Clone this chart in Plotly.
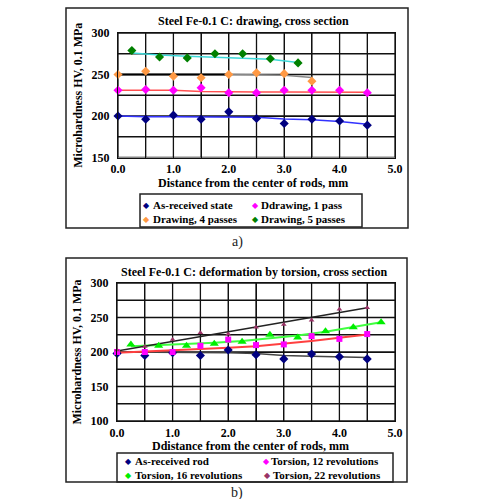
import plotly.graph_objects as go

W, H = 477, 499
FONT = "Liberation Serif"


def px(x):
    return x / W


def py(y):
    return 1 - y / H


# ---------------- data: a) drawing ----------------
x_pos = [0.0, 0.5, 1.0, 1.5, 2.0, 2.5, 3.0, 3.5, 4.0, 4.5]
asrec_a = [200, 196, 201, 196, 205, 197, 191, 196, 194, 189]
asrec_a_trend = [200, 199, 199, 199, 199, 198.5, 196.5, 195.5, 193.5, 190]
pass1 = [231, 232, 231, 234, 228, 228, 231, 231, 231, 228]
pass1_trend = [231, 231, 231, 229.5, 229, 229, 229, 229, 229, 228.5]
x_pass4 = [0.0, 0.5, 1.0, 1.5, 2.0, 2.5, 3.0, 3.5]
pass4 = [250, 254, 248, 246, 250, 252, 251, 242]
pass4_trend_black = [250, 250, 250, 250, 250]
pass4_trend_grey = [250, 249.5, 249, 246.5]
x_pass5 = [0.25, 0.75, 1.25, 1.75, 2.25, 2.75, 3.25]
pass5 = [279, 271, 270, 275, 275, 269, 264]
pass5_trend = [276, 273.5, 272, 271, 270, 268.5, 264.5]

# ---------------- data: b) torsion ----------------
asrec_b = [198, 195, 199, 195, 203, 196, 190, 197, 193, 190]
asrec_b_trend = [200, 200, 199.5, 199, 199, 198, 195, 194, 193, 192]
rev12 = [200, 200, 200, 209, 218, 210, 211, 223, 219, 226]
rev12_trend = [199, 200.5, 202, 204, 206, 208.5, 212, 216, 220.5, 225.5]
x_rev16 = [0.25, 0.75, 1.25, 1.75, 2.25, 2.75, 3.25, 3.75, 4.25, 4.75]
rev16 = [211, 209, 209, 212, 215, 225, 221, 230, 236, 243]
rev16_trend = [208.5, 210, 211.5, 213.5, 216, 219.5, 224, 229.5, 236, 243]
rev22 = [203, 208, 218, 228, 226, 236, 240, 246, 262, 264]
x_rev22_trend = [0.0, 4.5]
rev22_trend = [201.5, 264]

# ticks / grid: every grid position, labels only on the major ones
x_tickvals = [0.0, 0.5, 1.0, 1.5, 2.0, 2.5, 3.0, 3.5, 4.0, 4.5, 5.0]
x_ticktext = ["0.0", "", "1.0", "", "2.0", "", "3.0", "", "4.0", "", "5.0"]
ya_tickvals = [150, 175, 200, 225, 250, 275, 300]
ya_ticktext = ["150", "", "200", "", "250", "", "300"]
yb_tickvals = [100, 125, 150, 175, 200, 225, 250, 275, 300]
yb_ticktext = ["100", "", "150", "", "200", "", "250", "", "300"]
x_range = [0, 5]
ya_range = [150, 300]
yb_range = [100, 300]

title_a = "Steel Fe-0.1 C: drawing, cross section"
title_b = "Steel Fe-0.1 C: deformation by torsion, cross section"
xtitle_a = "Distance from the center of rods, mm"
xtitle_b = "Ddistance from the center of rods, mm"
ytitle = "Microhardness HV, 0.1 MPa"

legend_a = [("As-received state", "#000080"), ("Ddrawing, 1 pass", "#FF00FF"),
            ("Drawing, 4 passes", "#FF9944"), ("Drawing, 5 passes", "#008000")]
legend_b = [("As-received rod", "#000080"), ("Torsion, 12 revolutions", "#FF00FF"),
            ("Torsion, 16 revolutions", "#00EE00"), ("Torsion, 22 revolutions", "#993366")]

GRID = "#111111"
TICK = 0.09  # ~5 px of the x axis, for the outside y tick marks

# subplot axes: a) on x2/y2, b) on x3/y3 (the default x/y pair is left empty)
XA, YA = "x2", "y2"
XB, YB = "x3", "y3"

fig = go.Figure()
fig.add_trace(go.Scatter(x=[], y=[], xaxis="x", yaxis="y", showlegend=False, hoverinfo="skip"))


def grid(xa, ya, ytv, yrng):
    # chart grid (every tick position) plus the short outside y tick marks
    gx, gy = [], []
    for v in x_tickvals:
        gx += [v, v, None]
        gy += [yrng[0], yrng[1], None]
    for v in ytv:
        gx += [x_range[0] - TICK, x_range[1], None]
        gy += [v, v, None]
    fig.add_trace(go.Scatter(x=gx, y=gy, mode="lines", line=dict(color=GRID, width=1.3),
                             xaxis=xa, yaxis=ya, showlegend=False, hoverinfo="skip",
                             cliponaxis=False))


def line(x, y, color, xa, ya, width=1.5):
    fig.add_trace(go.Scatter(x=x, y=y, mode="lines", line=dict(color=color, width=width),
                             xaxis=xa, yaxis=ya, showlegend=False, hoverinfo="skip"))


def pts(x, y, color, name, xa, ya, symbol="diamond", size=7):
    fig.add_trace(go.Scatter(x=x, y=y, mode="markers", name=name,
                             marker=dict(color=color, symbol=symbol, size=size, line=dict(width=0)),
                             xaxis=xa, yaxis=ya, showlegend=False, cliponaxis=False))


# a)
grid(XA, YA, ya_tickvals, ya_range)
line(x_pos, asrec_a_trend, "#3333FF", XA, YA)
line(x_pos, pass1_trend, "#FF5050", XA, YA)
line(x_pass4[4:], pass4_trend_grey, "#888888", XA, YA)
line(x_pass4[:5], pass4_trend_black, "#000000", XA, YA, width=2)
line(x_pass5, pass5_trend, "#3CD8D8", XA, YA)
pts(x_pos, asrec_a, legend_a[0][1], legend_a[0][0], XA, YA)
pts(x_pos, pass1, legend_a[1][1], legend_a[1][0], XA, YA)
pts(x_pass4, pass4, legend_a[2][1], legend_a[2][0], XA, YA)
pts(x_pass5, pass5, legend_a[3][1], legend_a[3][0], XA, YA)

# b)
grid(XB, YB, yb_tickvals, yb_range)
line(x_pos, asrec_b_trend, "#444444", XB, YB)
line(x_pos, rev12_trend, "#FF4040", XB, YB, width=2)
line(x_rev16, rev16_trend, "#40FF40", XB, YB, width=2)
line(x_rev22_trend, rev22_trend, "#222222", XB, YB)
pts(x_pos, asrec_b, legend_b[0][1], legend_b[0][0], XB, YB)
pts(x_pos, rev12, legend_b[1][1], legend_b[1][0], XB, YB, symbol="square", size=6)
pts(x_rev16, rev16, legend_b[2][1], legend_b[2][0], XB, YB, symbol="triangle-up", size=8)
pts(x_pos, rev22, legend_b[3][1], legend_b[3][0], XB, YB, symbol="triangle-up", size=5)

tickfont = dict(family=FONT, size=12, color="black", weight="bold")
common = dict(showgrid=True, gridcolor=GRID, gridwidth=1.3, zeroline=False,
              showline=True, linecolor=GRID, linewidth=1.3, mirror=True,
              ticks="", tickfont=tickfont, automargin=False)


def xaxis(domain, anchor):
    return dict(domain=domain, anchor=anchor, range=x_range, tickmode="array",
                tickvals=x_tickvals, ticktext=x_ticktext, ticklabelstandoff=0, **common)


def yaxis(domain, anchor, rng, tv, tt):
    return dict(domain=domain, anchor=anchor, range=rng, tickmode="array",
                tickvals=tv, ticktext=tt, ticklabelstandoff=5,
                title=dict(text=ytitle, font=dict(family=FONT, size=12, color="black", weight="bold"),
                           standoff=6),
                **common)


shapes = []
for (x0, y0, x1, y1) in [(66, 8, 408, 228), (66, 258, 407, 482),
                         (140, 194, 362, 227), (117, 453, 393, 482)]:
    shapes.append(dict(type="rect", xref="paper", yref="paper",
                       x0=px(x0), x1=px(x1), y0=py(y0), y1=py(y1),
                       line=dict(color="#222222", width=1.5), layer="above"))

ann = []
bold = dict(family=FONT, size=12, color="black", weight="bold")
for text, x, y in [(title_a, 254, 21), (title_b, 254, 272), (xtitle_a, 253, 183), (xtitle_b, 251, 446)]:
    ann.append(dict(text=text, x=px(x), y=py(y), xref="paper", yref="paper",
                    showarrow=False, font=bold, xanchor="center", yanchor="middle"))
ann.append(dict(text="a)", x=px(237), y=py(242), xref="paper", yref="paper", showarrow=False,
                font=dict(family=FONT, size=14, color="#222"), xanchor="center", yanchor="middle"))
ann.append(dict(text="b)", x=px(237), y=py(493), xref="paper", yref="paper", showarrow=False,
                font=dict(family=FONT, size=14, color="#222"), xanchor="center", yanchor="middle"))

leg_font = dict(family=FONT, size=11, color="black", weight="bold")
# (glyph x, text x, y) for each legend entry
leg_pos_a = [(146, 151, 205), (255, 259, 205), (146, 151, 219), (255, 259, 219)]
leg_pos_b = [(128, 133, 461), (266, 269, 461), (128, 133, 475), (267, 271, 475)]
for entries, poss in [(legend_a, leg_pos_a), (legend_b, leg_pos_b)]:
    for (label, color), (gx, tx, yy) in zip(entries, poss):
        ann.append(dict(text="◆", x=px(gx), y=py(yy), xref="paper", yref="paper", showarrow=False,
                        font=dict(family="DejaVu Sans", size=8, color=color),
                        xanchor="center", yanchor="middle"))
        ann.append(dict(text=label, x=px(tx), y=py(yy), xref="paper", yref="paper", showarrow=False,
                        font=leg_font, xanchor="left", yanchor="middle"))

fig.update_layout(
    width=W, height=H,
    margin=dict(l=0, r=0, t=0, b=0),
    paper_bgcolor="white", plot_bgcolor="white",
    showlegend=False,
    xaxis=dict(domain=[0, 0.002], anchor="y", visible=False),
    yaxis=dict(domain=[0, 0.002], anchor="x", visible=False),
    xaxis2=xaxis([px(118), px(395)], YA),
    yaxis2=yaxis([py(157.5), py(33)], XA, ya_range, ya_tickvals, ya_ticktext),
    xaxis3=xaxis([px(117), px(395)], YB),
    yaxis3=yaxis([py(421), py(283)], XB, yb_range, yb_tickvals, yb_ticktext),
    shapes=shapes,
    annotations=ann,
)

fig.write_html("out.html")
